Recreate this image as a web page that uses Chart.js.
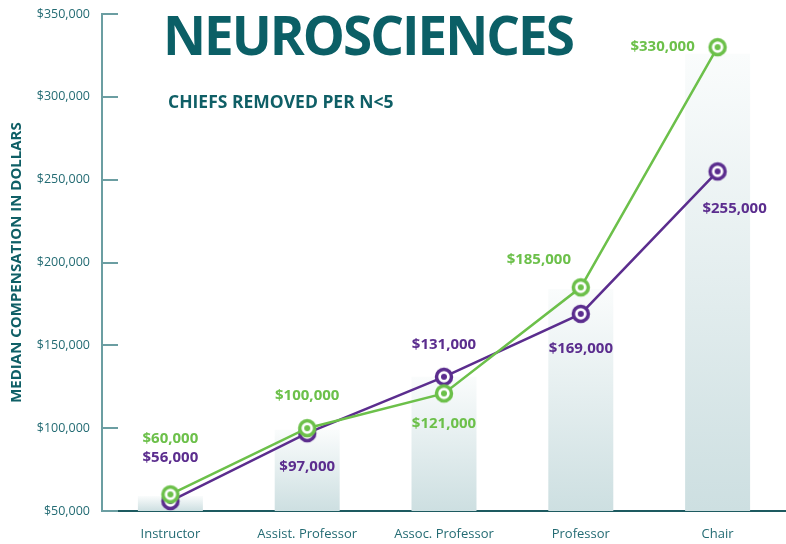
<!DOCTYPE html>
<html>
<head>
<meta charset="utf-8">
<script src="https://cdn.jsdelivr.net/npm/chart.js@4.4.1/dist/chart.umd.min.js"></script>
<style>
  html, body { margin: 0; padding: 0; background: #fff; }
  #wrap { position: relative; width: 786px; height: 544px; }
  #title {
    position: absolute; left: 163px; top: -2px;
    font: 700 53px 'Open Sans', sans-serif; color: #0b5f66;
    letter-spacing: -2px; white-space: nowrap;
  }
  #subtitle {
    position: absolute; left: 168px; top: 89px;
    font: 700 17.5px 'Open Sans', sans-serif; color: #0f5f66;
    white-space: nowrap;
  }
</style>
</head>
<body>
<div id="wrap">
  <canvas id="chart" width="786" height="544"></canvas>
  <div id="title">NEUROSCIENCES</div>
  <div id="subtitle">CHIEFS REMOVED PER N&lt;5</div>
</div>
<script>
// Chart data
const categories = ['Instructor', 'Assist. Professor', 'Assoc. Professor', 'Professor', 'Chair'];
const greenValues = [60000, 100000, 121000, 185000, 330000];
const purpleValues = [56000, 97000, 131000, 169000, 255000];
const barValues = [59000, 99000, 131000, 184000, 326000];
const yTicks = [50000, 100000, 150000, 200000, 250000, 300000, 350000];

const GREEN = '#6cc04a';
const PURPLE = '#5b2d8e';
const TEAL = '#0f5f66';
const TICK_TEXT = '#236b73';

// label offsets relative to each point (px)
const greenLabelOffsets = [[0, -56], [0, -32], [0, 30], [-42, -28], [-55, 0]];
const purpleLabelOffsets = [[0, -43], [0, 34], [0, -32], [0, 35], [17, 37]];

const fmt = v => '$' + v.toLocaleString('en-US');

// ring + dot marker used as point style
function makeMarker(color) {
  const c = document.createElement('canvas');
  c.width = 22; c.height = 22;
  const g = c.getContext('2d');
  g.beginPath();
  g.arc(11, 11, 7.5, 0, Math.PI * 2);
  g.fillStyle = '#fff';
  g.fill();
  g.lineWidth = 3.5;
  g.strokeStyle = color;
  g.stroke();
  g.beginPath();
  g.arc(11, 11, 3, 0, Math.PI * 2);
  g.fillStyle = color;
  g.fill();
  return c;
}

// short inward tick marks on the y axis
const yTickMarks = {
  id: 'yTickMarks',
  beforeDatasetsDraw(chart) {
    const { ctx, scales: { y } } = chart;
    ctx.save();
    ctx.strokeStyle = '#6b9ea2';
    ctx.lineWidth = 2;
    yTicks.forEach(v => {
      const py = Math.round(y.getPixelForValue(v));
      ctx.beginPath();
      ctx.moveTo(y.right, py);
      ctx.lineTo(y.right + 16, py);
      ctx.stroke();
    });
    ctx.restore();
  }
};

// value labels next to the points
const valueLabels = {
  id: 'valueLabels',
  afterDatasetsDraw(chart) {
    const { ctx } = chart;
    const sets = [
      { idx: 0, color: GREEN, offsets: greenLabelOffsets, values: greenValues },
      { idx: 1, color: PURPLE, offsets: purpleLabelOffsets, values: purpleValues }
    ];
    ctx.save();
    ctx.font = "700 15px 'Open Sans', sans-serif";
    ctx.textAlign = 'center';
    ctx.textBaseline = 'middle';
    sets.forEach(s => {
      chart.getDatasetMeta(s.idx).data.forEach((pt, i) => {
        ctx.fillStyle = s.color;
        ctx.fillText(fmt(s.values[i]), pt.x + s.offsets[i][0], pt.y + s.offsets[i][1]);
      });
    });
    ctx.restore();
  }
};

const ctx = document.getElementById('chart').getContext('2d');
new Chart(ctx, {
  data: {
    labels: categories,
    datasets: [
      {
        type: 'line',
        label: 'Green',
        data: greenValues,
        borderColor: GREEN,
        borderWidth: 2.5,
        tension: 0,
        pointStyle: makeMarker(GREEN),
        pointRadius: 11,
        clip: false,
        order: 1
      },
      {
        type: 'line',
        label: 'Purple',
        data: purpleValues,
        borderColor: PURPLE,
        borderWidth: 2.5,
        tension: 0,
        pointStyle: makeMarker(PURPLE),
        pointRadius: 11,
        clip: false,
        order: 2
      },
      {
        type: 'bar',
        label: 'Background',
        data: barValues,
        order: 3,
        categoryPercentage: 1,
        barPercentage: 0.475,
        borderWidth: 0,
        backgroundColor: (context) => {
          const chart = context.chart;
          const y = chart.scales.y;
          if (!chart.chartArea || !y) return '#dbe7e8';
          const v = context.raw;
          const top = y.getPixelForValue(v);
          const bottom = y.getPixelForValue(50000);
          const grad = chart.ctx.createLinearGradient(0, top, 0, bottom);
          grad.addColorStop(0, 'rgba(250,252,252,1)');
          grad.addColorStop(1, '#cddfe1');
          return grad;
        }
      }
    ]
  },
  options: {
    responsive: false,
    animation: false,
    layout: { autoPadding: false, padding: { top: 14, right: 0, bottom: 0, left: 0 } },
    plugins: {
      legend: { display: false },
      tooltip: { enabled: false }
    },
    scales: {
      x: {
        offset: true,
        afterFit(scale) {
          scale.height = 33;
          scale.paddingLeft = 0;
          scale.paddingRight = 0;
        },
        grid: { display: false, drawTicks: false },
        border: { color: '#1d5a60', width: 2 },
        ticks: {
          color: TICK_TEXT,
          padding: 15,
          font: { family: "'Open Sans', sans-serif", size: 13 }
        }
      },
      y: {
        min: 50000,
        max: 350000,
        afterFit(scale) {
          scale.width = 102;
          scale.paddingTop = 0;
          scale.paddingBottom = 0;
        },
        afterBuildTicks(scale) { scale.ticks = yTicks.map(v => ({ value: v })); },
        grid: { display: false, drawTicks: false },
        border: { color: '#6b9ea2', width: 2 },
        ticks: {
          color: TICK_TEXT,
          padding: 12,
          font: { family: "'Open Sans', sans-serif", size: 12.5 },
          callback: v => fmt(v)
        },
        title: {
          display: true,
          text: 'MEDIAN COMPENSATION IN DOLLARS',
          color: TEAL,
          padding: { top: 8, bottom: 0 },
          font: { family: "'Open Sans', sans-serif", size: 15, weight: '700' }
        }
      }
    }
  },
  plugins: [yTickMarks, valueLabels]
});
</script>
</body>
</html>
